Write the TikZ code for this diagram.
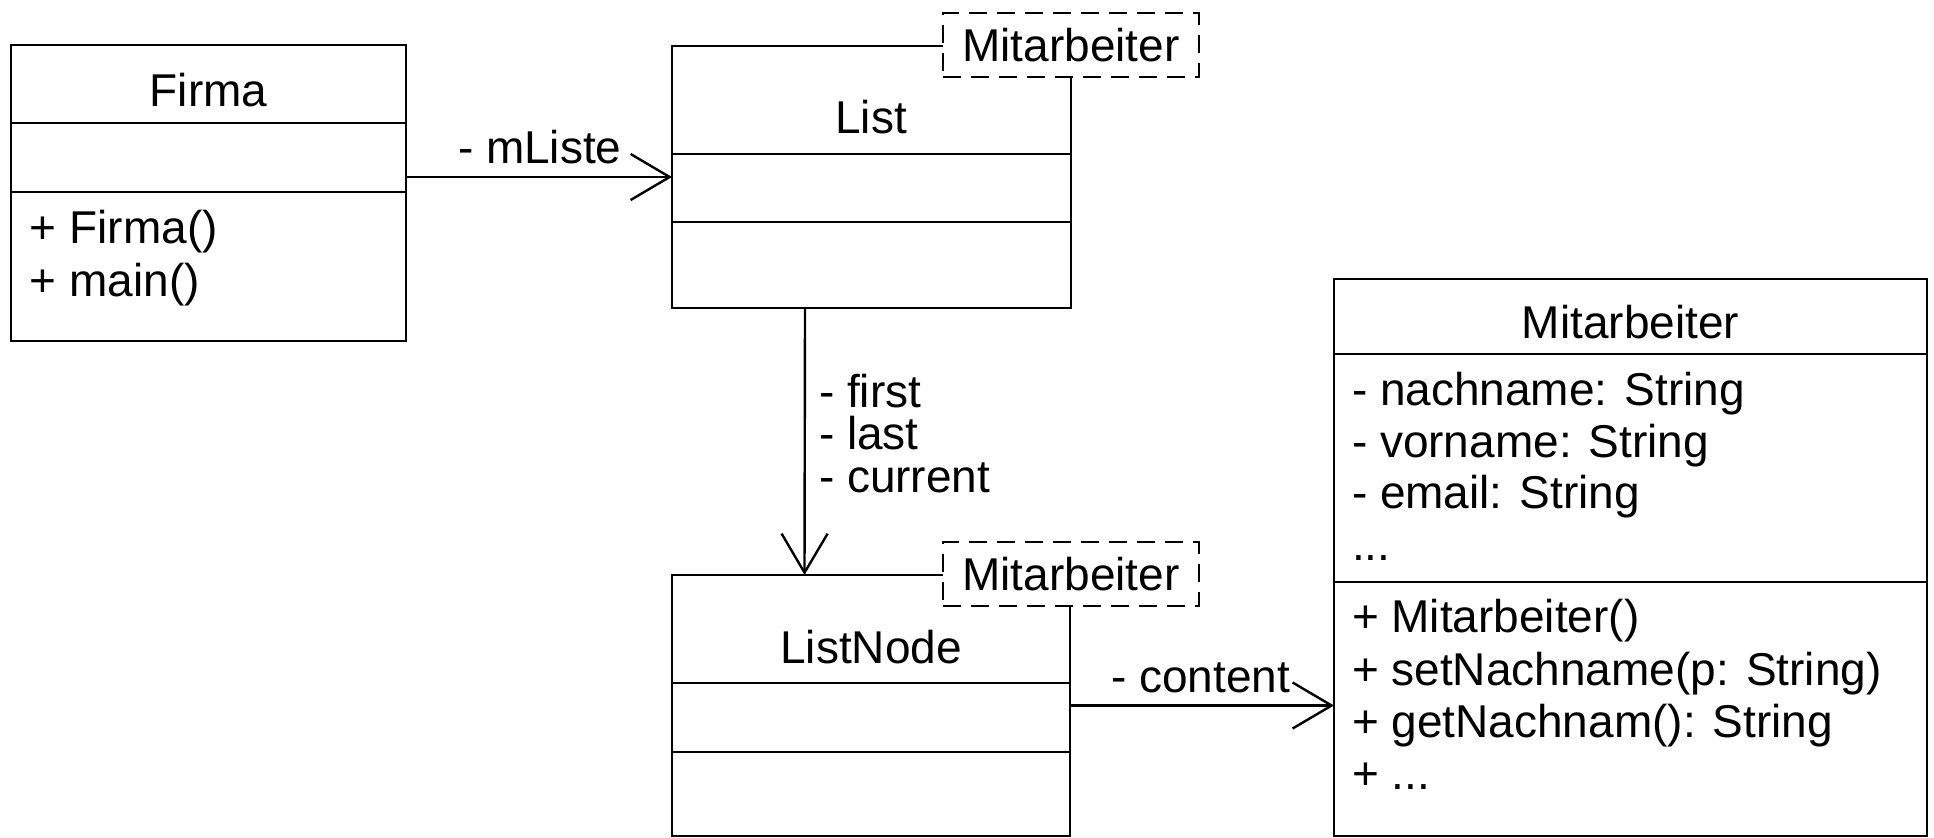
\documentclass[tikz,border=0pt]{standalone}
\usepackage{fontspec}
\setmainfont{Liberation Sans}
\usetikzlibrary{arrows.meta}
\begin{document}
\begin{tikzpicture}[x=0.5pt,y=-0.5pt,
  every node/.style={font=\fontsize{23}{27}\selectfont, inner sep=0pt, outer sep=0pt},
  classbox/.style={draw, line width=1.2pt, rectangle, anchor=north west, fill=white},
  tmplbox/.style={draw, line width=1.2pt, dash pattern=on 9pt off 5pt, rectangle, fill=white,
    minimum width=128pt, minimum height=32pt},
  divider/.style={line width=1.2pt},
  assoc/.style={line width=1.2pt, -{Straight Barb[length=19.5pt,width=23pt]}},
  member/.style={anchor=base west},
  title/.style={anchor=base}]
\useasboundingbox (0,0) rectangle (1934,837);

% Firma
\node[classbox, minimum width=197.5pt, minimum height=148pt] (firma) at (11,45) {};
\draw[divider] (firma.west |- 0,123) -- (firma.east |- 0,123);
\draw[divider] (firma.west |- 0,192) -- (firma.east |- 0,192);
\node[title] (firmaName) at (208.5,106) {Firma};
\node[member] (firmaOp1) at (30,243) {+ Firma()};
\node[member] (firmaOp2) at (30,296) {+ main()};

% List
\node[classbox, minimum width=199.5pt, minimum height=131pt] (list) at (672,46) {};
\draw[divider] (list.west |- 0,154) -- (list.east |- 0,154);
\draw[divider] (list.west |- 0,222) -- (list.east |- 0,222);
\node[title] (listName) at (871,133) {List};
\node[tmplbox] (listParam) at (1071,45) {Mitarbeiter};

% ListNode
\node[classbox, minimum width=199pt, minimum height=130.5pt] (listnode) at (672,575) {};
\draw[divider] (listnode.west |- 0,683) -- (listnode.east |- 0,683);
\draw[divider] (listnode.west |- 0,752) -- (listnode.east |- 0,752);
\node[title] (listnodeName) at (871,663) {ListNode};
\node[tmplbox] (listnodeParam) at (1071,574) {Mitarbeiter};

% Mitarbeiter
\node[classbox, minimum width=296.5pt, minimum height=278.5pt] (mit) at (1334,279) {};
\draw[divider] (mit.west |- 0,354) -- (mit.east |- 0,354);
\draw[divider] (mit.west |- 0,582) -- (mit.east |- 0,582);
\node[title] (mitName) at (1630.5,338) {Mitarbeiter};
\node[member] (mitA1) at (1352,405) {- nachname: String};
\node[member] (mitA2) at (1352,457) {- vorname: String};
\node[member] (mitA3) at (1352,508) {- email: String};
\node[member] (mitA4) at (1352,560) {...};
\node[member] (mitO1) at (1352,632) {+ Mitarbeiter()};
\node[member] (mitO2) at (1352,685) {+ setNachname(p: String)};
\node[member] (mitO3) at (1352,737) {+ getNachnam(): String};
\node[member] (mitO4) at (1352,789) {+ ...};

% Associations
\draw[assoc] (firma.east |- list.west) -- (list.west);
\node[member] (lblListe) at (458,163) {- mListe};

\draw[assoc] ([xshift=-33.25pt]list.south) -- ([xshift=-33.25pt]listnode.north);
\node[member] (lblFirst) at (819,407) {- first};
\node[member] (lblLast) at (819,449) {- last};
\node[member] (lblCurrent) at (819,492) {- current};

\draw[assoc] (listnode.east) -- (listnode.east -| mit.west);
\node[member] (lblContent) at (1111,692) {- content};
\end{tikzpicture}
\end{document}
